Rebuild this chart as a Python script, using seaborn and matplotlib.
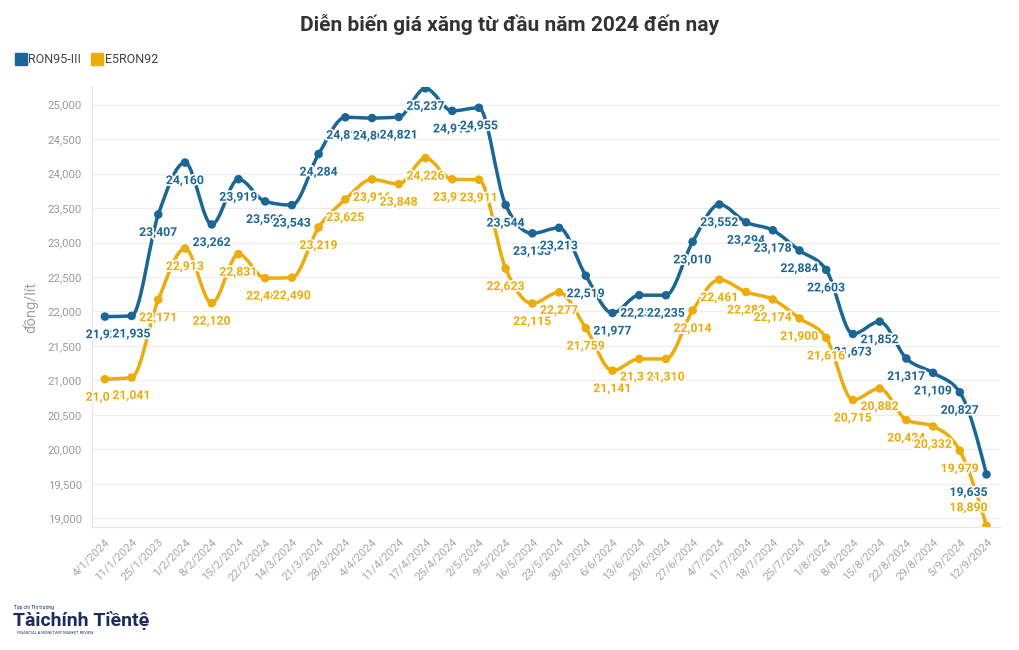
import matplotlib
matplotlib.use('Agg')
import matplotlib.pyplot as plt
import matplotlib.patheffects as pe
from matplotlib.path import Path
from matplotlib.patches import PathPatch
from matplotlib.lines import Line2D
import numpy as np
import pandas as pd
import seaborn as sns

# data
dates = ['4/1/2024', '11/1/2024', '25/1/2023', '1/2/2024', '8/2/2024', '15/2/2024',
         '22/2/2024', '14/3/2024', '21/3/2024', '28/3/2024', '4/4/2024', '11/4/2024',
         '17/4/2024', '25/4/2024', '2/5/2024', '9/5/2024', '16/5/2024', '23/5/2024',
         '30/5/2024', '6/6/2024', '13/6/2024', '20/6/2024', '27/6/2024', '4/7/2024',
         '11/7/2024', '18/7/2024', '25/7/2024', '1/8/2024', '8/8/2024', '15/8/2024',
         '22/8/2024', '29/8/2024', '5/9/2024', '12/9/2024']
ron95 = [21925, 21935, 23407, 24160, 23262, 23919, 23596, 23543, 24284, 24817,
         24806, 24821, 25237, 24910, 24955, 23544, 23133, 23213, 22519, 21977,
         22236, 22235, 23010, 23552, 23294, 23178, 22884, 22603, 21673, 21852,
         21317, 21109, 20827, 19635]
e5ron92 = [21017, 21041, 22171, 22913, 22120, 22831, 22483, 22490, 23219, 23625,
           23916, 23848, 24226, 23917, 23911, 22623, 22115, 22277, 21759, 21141,
           21311, 21310, 22014, 22461, 22282, 22174, 21900, 21616, 20715, 20882,
           20424, 20332, 19979, 18890]
series_names = ['RON95-III', 'E5RON92']
colors = {'RON95-III': '#1b6694', 'E5RON92': '#ebac0c'}

df = pd.DataFrame({'x': np.arange(len(dates)), 'date': dates,
                   'RON95-III': ron95, 'E5RON92': e5ron92})
long = df.melt(id_vars=['x', 'date'], value_vars=series_names,
               var_name='series', value_name='price')

sns.set_style('white')
plt.rcParams['font.family'] = ['Roboto', 'DejaVu Sans']

fig = plt.figure(figsize=(10.2, 6.5), dpi=100)
ax = fig.add_axes([0.090, 0.189, 0.890, 0.677])


def monotone_path(x, y):
    # d3 curveMonotoneX as cubic bezier segments
    x = np.asarray(x, float)
    y = np.asarray(y, float)
    n = len(x)
    h = np.diff(x)
    s = np.diff(y) / h
    m = np.zeros(n)
    for i in range(1, n - 1):
        p = (s[i - 1] * h[i] + s[i] * h[i - 1]) / (h[i - 1] + h[i])
        m[i] = (np.sign(s[i - 1]) + np.sign(s[i])) * min(abs(s[i - 1]), abs(s[i]), 0.5 * abs(p))
    m[0] = (3 * s[0] - m[1]) / 2
    m[-1] = (3 * s[-1] - m[-2]) / 2
    verts = [(x[0], y[0])]
    codes = [Path.MOVETO]
    for i in range(n - 1):
        d = h[i] / 3
        verts += [(x[i] + d, y[i] + m[i] * d), (x[i + 1] - d, y[i + 1] - m[i + 1] * d), (x[i + 1], y[i + 1])]
        codes += [Path.CURVE4] * 3
    return Path(verts, codes)


for name in series_names:
    ax.add_patch(PathPatch(monotone_path(df['x'], df[name]), fill=False,
                           edgecolor=colors[name], lw=2.5, capstyle='round', zorder=2))

sns.scatterplot(data=long, x='x', y='price', hue='series', palette=colors,
                s=38, edgecolor='none', legend=False, ax=ax, zorder=3)

ymin, ymax = 18870, 25255
last = len(dates) - 1

# value labels, later ones drawn over earlier ones
for name in series_names:
    for xi, v in zip(df['x'], df[name]):
        dy = -13 if v > ymin + 250 else 13
        ha = 'right' if xi == last else 'center'
        ax.annotate(f'{v:,}', (xi, v), xytext=(1 if xi == last else 0, dy),
                    textcoords='offset points', ha=ha, va='center', fontsize=8.8,
                    fontweight='bold', color=colors[name], zorder=4,
                    path_effects=[pe.withStroke(linewidth=2.5, foreground='white')])

ax.set_xlim(-0.49, len(dates) - 0.51)
ax.set_ylim(ymin, ymax)
ax.set_yticks(np.arange(19000, 25001, 500))
ax.set_yticklabels([f'{t:,}' for t in range(19000, 25001, 500)], color='#9a9a9a', fontsize=8.2)
ax.set_xticks(df['x'])
ax.set_xticklabels(dates, rotation=45, ha='right', rotation_mode='anchor',
                   color='#a8a8a8', fontsize=8.2)
ax.tick_params(axis='both', length=4, color='#e2e2e2', width=0.8, pad=3)
ax.grid(axis='y', color='#ececec', lw=0.8)
ax.set_axisbelow(True)
for sp in ['top', 'right']:
    ax.spines[sp].set_visible(False)
for sp in ['left', 'bottom']:
    ax.spines[sp].set_color('#e6e6e6')
    ax.spines[sp].set_linewidth(0.8)
ax.set_xlabel('')
ax.set_ylabel('đồng/lít', color='#a0a0a0', fontsize=10.5, labelpad=7)

fig.text(0.5, 0.962, 'Diễn biến giá xăng từ đầu năm 2024 đến nay', ha='center', va='center',
         fontsize=15, fontweight='bold', color='#333333')

handles = [Line2D([], [], marker='s', ls='none', markersize=9, color=colors[n]) for n in series_names]
fig.legend(handles, series_names, loc='center left', bbox_to_anchor=(0.003, 0.908), ncol=2,
           frameon=False, fontsize=9, handletextpad=0.1, columnspacing=0.8,
           labelcolor='#444444', handlelength=1.0)

# publisher mark
fig.text(0.014, 0.065, 'Tạp chí Thị trường', fontsize=3.5, color='#1d2b5e', va='center')
fig.text(0.013, 0.045, 'Tàichính Tiềntệ', fontsize=14, fontweight='bold', color='#1d2b5e',
         va='center')
fig.text(0.017, 0.026, 'FINANCIAL & MONETARY MARKET REVIEW', fontsize=2.8, color='#1d2b5e',
         va='center')

fig.savefig('out.png', dpi=100, facecolor='white')
